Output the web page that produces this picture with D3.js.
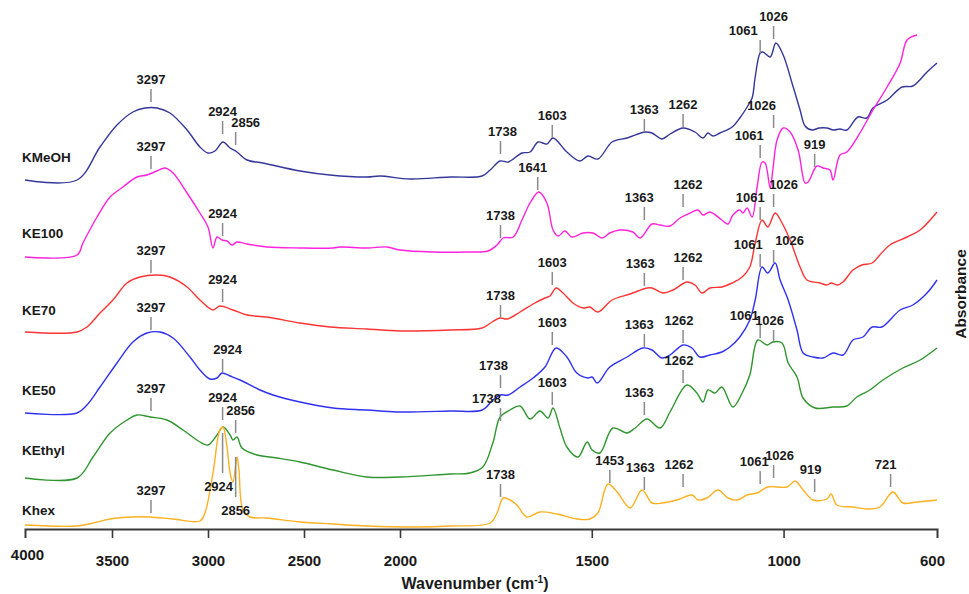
<!DOCTYPE html>
<html>
<head>
<meta charset="utf-8">
<script src="https://cdn.jsdelivr.net/npm/d3@7"></script>
<style>
  html, body { margin: 0; padding: 0; background: #fff; }
  svg { display: block; font-family: "Liberation Sans", Arial, sans-serif; }
</style>
</head>
<body>
<svg id="chart" width="969" height="594"></svg>
<script>
// FTIR spectra, stacked with vertical offsets: [wavenumber (cm-1), absorbance]
const seriesNames = ["KMeOH", "KE100", "KE70", "KE50", "KEthyl", "Khex"];
const seriesColors = ["#34379a", "#ff22dd", "#ff3333", "#3030f0", "#2f952f", "#ffb020"];

const kMeOH = [[4000,3.49],[3701,3.49],[3569,3.82],[3474,4.04],[3391,4.17],[3328,4.21],[3266,4.21],[3198,4.16],[3109,3.99],[3042,3.82],[3000,3.76],[2964,3.78],[2922,3.87],[2885,3.81],[2849,3.77],[2797,3.69],[2714,3.66],[2521,3.58],[2365,3.54],[2172,3.52],[2104,3.53],[1974,3.50],[1870,3.52],[1786,3.53],[1765,3.59],[1739,3.68],[1718,3.67],[1682,3.76],[1661,3.77],[1640,3.87],[1617,3.85],[1601,3.91],[1565,3.77],[1531,3.68],[1510,3.73],[1484,3.70],[1447,3.87],[1408,3.91],[1361,3.97],[1343,3.96],[1317,3.90],[1296,3.95],[1262,4.01],[1231,3.97],[1210,3.91],[1197,3.96],[1184,3.93],[1166,3.96],[1134,4.02],[1114,4.11],[1095,4.22],[1082,4.31],[1074,4.52],[1061,4.76],[1054,4.77],[1035,4.72],[1020,4.86],[1001,4.74],[978,4.46],[957,4.19],[944,4.03],[926,3.99],[907,4.01],[887,4.01],[870,3.99],[853,4.00],[835,3.99],[806,4.12],[783,4.11],[767,4.21],[730,4.29],[691,4.42],[663,4.43],[626,4.57],[600,4.66]];

const kE100 = [[4000,2.72],[3701,2.74],[3667,2.86],[3586,3.12],[3511,3.32],[3443,3.42],[3370,3.52],[3318,3.54],[3266,3.58],[3224,3.61],[3182,3.56],[3109,3.36],[3042,3.16],[3000,3.02],[2974,2.81],[2953,2.92],[2927,2.89],[2901,2.88],[2875,2.84],[2849,2.87],[2797,2.85],[2693,2.82],[2521,2.81],[2349,2.81],[2313,2.82],[2172,2.81],[2068,2.82],[2000,2.79],[1914,2.77],[1825,2.77],[1771,2.78],[1747,2.84],[1731,2.91],[1705,2.92],[1682,3.09],[1661,3.26],[1638,3.37],[1617,3.26],[1601,2.99],[1588,2.93],[1570,2.98],[1552,2.92],[1523,2.96],[1497,2.96],[1473,2.91],[1453,2.96],[1426,2.99],[1393,2.97],[1374,2.91],[1343,3.05],[1322,3.04],[1296,3.03],[1270,3.11],[1244,3.16],[1223,3.19],[1210,3.14],[1192,3.17],[1161,3.09],[1145,3.05],[1132,3.14],[1114,3.19],[1106,3.16],[1095,3.21],[1082,3.12],[1069,3.42],[1056,3.67],[1048,3.66],[1035,3.41],[1028,3.59],[1017,3.89],[1001,4.01],[983,3.97],[962,3.79],[944,3.46],[936,3.47],[913,3.63],[897,3.61],[879,3.59],[871,3.49],[853,3.74],[835,3.77],[801,3.96],[767,4.19],[730,4.42],[696,4.66],[678,4.89],[652,4.94]];

const kE70 = [[4000,1.97],[3701,1.97],[3644,2.02],[3569,2.16],[3495,2.29],[3422,2.46],[3354,2.52],[3266,2.54],[3198,2.52],[3109,2.42],[3042,2.29],[2974,2.19],[2938,2.23],[2870,2.19],[2797,2.14],[2693,2.12],[2521,2.06],[2365,2.02],[2172,2.00],[2000,1.98],[1870,1.99],[1786,2.01],[1760,2.07],[1739,2.11],[1721,2.10],[1687,2.17],[1653,2.25],[1622,2.31],[1609,2.33],[1593,2.41],[1575,2.36],[1549,2.26],[1523,2.21],[1505,2.22],[1484,2.17],[1447,2.29],[1400,2.35],[1356,2.41],[1343,2.41],[1314,2.36],[1288,2.39],[1252,2.47],[1231,2.44],[1213,2.36],[1192,2.41],[1161,2.42],[1134,2.46],[1108,2.52],[1088,2.62],[1074,2.86],[1056,3.09],[1041,3.02],[1022,3.16],[1004,3.06],[983,2.89],[957,2.62],[939,2.49],[905,2.46],[887,2.44],[876,2.46],[860,2.44],[845,2.47],[819,2.59],[796,2.64],[769,2.66],[749,2.74],[723,2.84],[678,2.92],[644,2.99],[600,3.17]];

const kE50 = [[4000,1.16],[3701,1.16],[3644,1.24],[3569,1.42],[3474,1.66],[3391,1.87],[3318,1.96],[3250,1.97],[3182,1.91],[3094,1.72],[3042,1.59],[2990,1.50],[2953,1.51],[2927,1.56],[2885,1.53],[2833,1.49],[2729,1.39],[2661,1.34],[2521,1.27],[2349,1.21],[2172,1.19],[2016,1.17],[1870,1.18],[1786,1.19],[1758,1.29],[1739,1.34],[1718,1.34],[1687,1.42],[1653,1.51],[1622,1.62],[1593,1.81],[1565,1.72],[1539,1.56],[1510,1.51],[1499,1.52],[1486,1.46],[1453,1.62],[1408,1.72],[1367,1.81],[1343,1.79],[1317,1.71],[1296,1.74],[1262,1.84],[1239,1.81],[1218,1.72],[1192,1.74],[1161,1.77],[1140,1.82],[1114,1.92],[1088,2.09],[1074,2.29],[1056,2.62],[1041,2.56],[1022,2.66],[1009,2.49],[988,2.29],[965,1.99],[949,1.76],[923,1.72],[897,1.71],[871,1.76],[845,1.74],[819,1.89],[793,1.92],[769,2.02],[744,2.02],[696,2.19],[663,2.24],[626,2.36],[600,2.49]];

const kEthyl = [[4000,0.51],[3701,0.51],[3609,0.72],[3511,0.96],[3422,1.09],[3370,1.14],[3302,1.12],[3214,1.09],[3130,0.99],[3042,0.87],[3000,0.84],[2953,0.94],[2922,1.02],[2885,0.94],[2870,0.89],[2849,0.92],[2823,0.81],[2745,0.74],[2641,0.71],[2521,0.67],[2349,0.59],[2172,0.52],[2000,0.52],[1870,0.55],[1818,0.56],[1784,0.62],[1758,0.86],[1739,1.12],[1713,1.19],[1687,1.23],[1661,1.10],[1635,1.18],[1614,1.11],[1601,1.21],[1583,1.01],[1565,0.82],[1536,0.72],[1512,0.87],[1499,0.79],[1479,0.76],[1445,1.01],[1408,0.96],[1387,1.01],[1356,1.10],[1322,1.01],[1296,1.17],[1252,1.44],[1226,1.36],[1210,1.27],[1197,1.39],[1179,1.36],[1161,1.42],[1132,1.22],[1108,1.36],[1088,1.54],[1067,1.89],[1043,1.84],[1028,1.87],[1004,1.86],[988,1.66],[965,1.52],[949,1.31],[918,1.21],[871,1.22],[835,1.23],[809,1.32],[775,1.39],[741,1.49],[689,1.61],[644,1.69],[600,1.81]];

const kHex = [[4000,0.04],[3701,0.03],[3609,0.06],[3511,0.10],[3391,0.12],[3302,0.12],[3182,0.10],[3042,0.08],[3016,0.16],[2974,0.56],[2938,0.99],[2922,1.02],[2901,0.82],[2885,0.56],[2870,0.47],[2849,0.72],[2839,0.59],[2818,0.19],[2781,0.12],[2693,0.11],[2521,0.07],[2349,0.05],[2172,0.03],[1956,0.02],[1870,0.03],[1765,0.06],[1747,0.16],[1731,0.31],[1713,0.29],[1695,0.24],[1669,0.12],[1635,0.17],[1591,0.15],[1539,0.10],[1505,0.10],[1484,0.16],[1458,0.45],[1434,0.37],[1400,0.21],[1369,0.39],[1343,0.26],[1317,0.26],[1278,0.29],[1239,0.34],[1223,0.29],[1200,0.31],[1171,0.39],[1145,0.31],[1121,0.29],[1095,0.34],[1069,0.36],[1041,0.42],[991,0.42],[970,0.48],[949,0.39],[923,0.29],[887,0.30],[876,0.35],[861,0.24],[819,0.22],[783,0.20],[749,0.22],[715,0.37],[689,0.26],[652,0.27],[600,0.29]];

const seriesData = [kMeOH, kE100, kE70, kE50, kEthyl, kHex];

// Peak annotations: [wavenumber, absorbance at the foot of the marker]
const peaksKMeOH = [[3297,4.27],[2924,3.95],[2856,3.84],[1738,3.75],[1603,3.91],[1363,3.97],[1262,4.02],[1061,4.76],[1026,4.90]];
const peaksKE100 = [[3297,3.60],[2924,2.93],[1738,2.91],[1641,3.39],[1363,3.09],[1262,3.22],[1061,3.71],[1026,4.01],[919,3.62]];
const peaksKE70 = [[3297,2.56],[2924,2.27],[1738,2.11],[1603,2.44],[1363,2.43],[1262,2.49],[1061,3.09],[1026,3.22]];
const peaksKE50 = [[3297,1.99],[2924,1.57],[1738,1.41],[1603,1.84],[1363,1.82],[1262,1.86],[1061,2.62],[1026,2.66]];
const peaksKEthyl = [[3297,1.18],[2924,1.09],[2856,0.96],[1738,1.08],[1603,1.24],[1363,1.14],[1262,1.46],[1061,1.91],[1026,1.86]];
const peaksKhex = [[3297,0.16],[1738,0.32],[1453,0.46],[1363,0.39],[1262,0.42],[1061,0.45],[1026,0.51],[919,0.37],[721,0.42]];
// Khex CH-stretch peaks, labelled underneath: [wavenumber, absorbance at the top of the marker]
const peaksKhexBelow = [[2924,0.96],[2856,0.72]];
const seriesPeaks = [peaksKMeOH, peaksKE100, peaksKE70, peaksKE50, peaksKEthyl, peaksKhex];

const xTickValues = [4000, 3500, 3000, 2500, 2000, 1500, 1000, 600];

// ---------------------------------------------------------------- layout
const svg = d3.select("#chart");
const plotLeft = 25, plotRight = 937, baseY = 529;

// Wavenumber axis runs high to low; the region below 2000 cm-1 is expanded
const x = d3.scaleLinear()
  .domain([4000, 3500, 2000, 600])
  .range([plotLeft, 112, 400, plotRight]);
const y = d3.scaleLinear().domain([0, 5]).range([baseY, 29]);

// label nudges (px) for labels set off their marker
const labelShift = {
  "KMeOH-2856": 10, "KMeOH-1061": -17, "KMeOH-1738": 2,
  "KE100-1641": -5, "KE100-1363": -5, "KE100-1262": 5, "KE100-1061": -11, "KE100-1026": -12,
  "KE70-1363": -4, "KE70-1262": 5, "KE70-1061": -10, "KE70-1026": 10,
  "KE50-2924": 5, "KE50-1738": -7, "KE50-1363": -5, "KE50-1262": -4, "KE50-1061": -12, "KE50-1026": 16,
  "KEthyl-2856": 5, "KEthyl-1738": -14, "KEthyl-1363": -5, "KEthyl-1262": -4, "KEthyl-1061": -16, "KEthyl-1026": -4,
  "Khex-2924": -4, "Khex-1363": -4, "Khex-1262": -4, "Khex-1061": -6, "Khex-1026": 6, "Khex-919": -4, "Khex-721": -5
};

// ---------------------------------------------------------------- spectra
const line = d3.line()
  .x(d => x(d[0]))
  .y(d => y(d[1]))
  .curve(d3.curveCatmullRom.alpha(0.5));

svg.append("g").selectAll("path")
  .data(seriesData)
  .join("path")
  .attr("d", line)
  .attr("fill", "none")
  .attr("stroke", (d, i) => seriesColors[i])
  .attr("stroke-width", 1.4)
  .attr("stroke-linejoin", "round");

// ---------------------------------------------------------------- peak markers
const tickLen = 13;
const ann = svg.append("g");
seriesPeaks.forEach((peaks, i) => {
  peaks.forEach(([wn, level]) => {
    const px = x(wn), py = y(level);
    ann.append("line")
      .attr("x1", px).attr("x2", px)
      .attr("y1", py).attr("y2", py - tickLen)
      .attr("stroke", "#8a8a8a").attr("stroke-width", 1.5);
    ann.append("text")
      .attr("x", px + (labelShift[seriesNames[i] + "-" + wn] || 0))
      .attr("y", py - tickLen - 5)
      .attr("text-anchor", "middle")
      .attr("font-size", 13).attr("font-weight", "bold").attr("fill", "#1a1a1a")
      .text(wn);
  });
});
peaksKhexBelow.forEach(([wn, level]) => {
  const px = x(wn), py = y(level);
  ann.append("line")
    .attr("x1", px).attr("x2", px)
    .attr("y1", py).attr("y2", py + 40)
    .attr("stroke", "#8a8a8a").attr("stroke-width", 1.5);
  ann.append("text")
    .attr("x", px + (labelShift["Khex-" + wn] || 0))
    .attr("y", py + 40 + 18)
    .attr("text-anchor", "middle")
    .attr("font-size", 13).attr("font-weight", "bold").attr("fill", "#1a1a1a")
    .text(wn);
});

// ---------------------------------------------------------------- series names
const nameY = [157, 233, 310, 390, 450, 510];
svg.append("g").selectAll("text")
  .data(seriesNames)
  .join("text")
  .attr("x", 22)
  .attr("y", (d, i) => nameY[i] + 5)
  .attr("font-size", 13.5).attr("font-weight", "bold").attr("fill", "#1a1a1a")
  .text(d => d);

// ---------------------------------------------------------------- x axis
const axis = d3.axisBottom(x)
  .tickValues(xTickValues)
  .tickSize(9)
  .tickPadding(17)
  .tickFormat(d3.format("d"));

const gx = svg.append("g")
  .attr("transform", `translate(0,${baseY})`)
  .call(axis);
gx.select(".domain").attr("stroke", "#3a3a3a").attr("stroke-width", 2);
gx.selectAll(".tick line").attr("stroke", "#3a3a3a").attr("stroke-width", 1.6)
  .attr("display", d => (d === 4000 || d === 600) ? "none" : null);
gx.selectAll(".tick text")
  .attr("font-size", 15).attr("font-weight", "bold").attr("fill", "#1a1a1a")
  .attr("font-family", "'Liberation Sans', Arial, sans-serif")
  .attr("dx", d => d === 4000 ? 2 : d === 600 ? -5 : 0)
  .attr("dy", d => d === 4000 ? "0.36em" : "0.71em");

// axis titles
const xt = svg.append("text")
  .attr("x", 475).attr("y", 589)
  .attr("text-anchor", "middle")
  .attr("font-size", 16).attr("font-weight", "bold").attr("fill", "#1a1a1a");
xt.append("tspan").text("Wavenumber (cm");
xt.append("tspan").attr("font-size", 10).attr("dy", -6).text("-1");
xt.append("tspan").attr("dy", 6).text(")");

svg.append("text")
  .attr("transform", "translate(966,294) rotate(-90)")
  .attr("text-anchor", "middle")
  .attr("font-size", 15.5).attr("font-weight", "bold").attr("fill", "#1a1a1a")
  .text("Absorbance");
</script>
</body>
</html>
